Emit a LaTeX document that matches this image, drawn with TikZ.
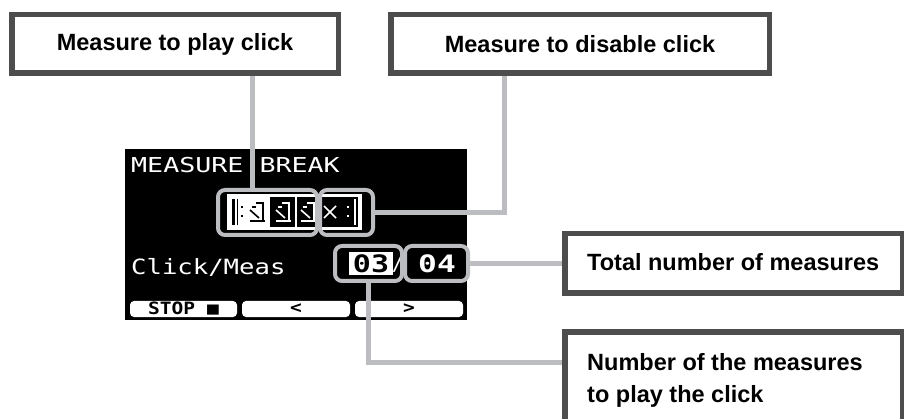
\documentclass[tikz,border=0pt]{standalone}
\usepackage{fontspec}
\setmainfont{Liberation Sans}
\newfontfamily\lcdfont{DejaVu Sans Mono}
\usetikzlibrary{backgrounds}
\definecolor{boxgray}{HTML}{4D4D4D}
\definecolor{linegray}{HTML}{BCBDC0}
\begin{document}
\begin{tikzpicture}[x=1pt,y=-1pt,
  labelbox/.style={draw=boxgray, line width=5.5pt, fill=white, inner sep=0pt},
  conn/.style={draw=linegray, line width=5pt},
  hlbox/.style={draw=linegray, line width=4pt, rounded corners=7pt, inner sep=0pt},
  lbl/.style={font=\fontsize{23.5}{32}\selectfont\bfseries, text=black, inner sep=0pt},
  lcd/.style={font=\fontsize{20.5}{24}\lcdfont, text=white, inner sep=0pt},
  softkey/.style={fill=white, rounded corners=4pt, inner sep=0pt, minimum height=16pt},
  keytext/.style={font=\fontsize{17}{17}\lcdfont\bfseries, text=black, inner sep=0pt},
  clk/.pic={
    \draw[line width=1.6pt] (-7,-2) -- (2,6);
    \draw[line width=1.6pt] (-1,-9) -- (6,-9) -- (6,8);
    \draw[line width=1.6pt] (-7,9) -- (8,9);
    \draw[line width=1.6pt] (-5,-5) -- (-1,-5);
  }
]
\useasboundingbox (0,0) rectangle (904,419);

% callout boxes
\node[labelbox, lbl, minimum width=326.5pt, minimum height=58.5pt] (box1) at (175,44) {Measure to play click};
\node[labelbox, lbl, minimum width=378.5pt, minimum height=58.5pt] (box2) at (580,44) {Measure to disable click};
\node[labelbox, minimum width=337.5pt, minimum height=59.5pt] (totalbox) at (733.5,263.5) {};
\node[lbl, anchor=base west] (totaltxt) at (587,271) {Total number of measures};
\node[labelbox, minimum width=337.5pt, minimum height=118.25pt] (numbox) at (733.5,390.875) {};
\node[lbl, anchor=base west] (numtxt1) at (587,370) {Number of the measures};
\node[lbl, anchor=base west] (numtxt2) at (587,402) {to play the click};

% highlight outlines on the screen
\node[hlbox, minimum width=99pt, minimum height=45pt] (playhl) at (267.5,212.5) {};
\node[hlbox, minimum width=53pt, minimum height=45pt] (disahl) at (346.5,212.5) {};
\node[hlbox, minimum width=67pt, minimum height=35pt] (hl03) at (368.5,263.5) {};
\node[hlbox, minimum width=63pt, minimum height=35pt] (hl04) at (436.5,263.5) {};

\coordinate (c1) at (252,0);
\coordinate (c2) at (504,0);
\coordinate (c3) at (0,362);

\begin{scope}[on background layer]
  % screen
  \fill[black] (125,149) rectangle (467,320);
  \node[lcd, anchor=base west] (title) at (131,173) {\scalebox{1.3}[1]{MEASURE BREAK}};
  \node[lcd, font=\fontsize{21}{24}\lcdfont, anchor=base west] (clkmeas) at (131,275) {\scalebox{1.22}[1]{Click/Meas}};

  % measure strip
  \fill[white] (227,194) rectangle (362,230);
  \fill[black] (230,197) rectangle (357.5,227);
  \fill[white] (230,197) rectangle (270,227);
  \fill[black] (232,199) rectangle (234.5,225);
  \fill[black] (236.5,199) rectangle (237.5,225);
  \fill[black] (240.5,206.5) rectangle (242.5,208.5);
  \fill[black] (240.5,215.5) rectangle (242.5,217.5);
  \fill[white] (295,197) rectangle (296.5,227);
  \pic[color=black] at (257,212) {clk};
  \pic[color=white] at (283,212) {clk};
  \pic[color=white] at (308,212) {clk};
  \draw[white, line width=1.6pt] (324,206) -- (336,218) (324,218) -- (336,206);
  \fill[white] (346.5,206.5) rectangle (348.5,208.5);
  \fill[white] (346.5,215.5) rectangle (348.5,217.5);
  \fill[white] (354,199) rectangle (355.5,225);

  % values
  \fill[white] (349,252) rectangle (393,275);
  \node[font=\fontsize{24}{24}\lcdfont\bfseries, text=black, inner sep=0pt] (n03) at (371,264) {\scalebox{1.25}[1]{03}};
  \node[lcd] (slash) at (398,264) {/};
  \node[font=\fontsize{24}{24}\lcdfont\bfseries, text=white, inner sep=0pt] (n04) at (437,264) {\scalebox{1.3}[1]{04}};

  % soft keys
  \node[softkey, minimum width=107pt] (k1) at (183.5,309) {};
  \node[softkey, minimum width=108pt] (k2) at (296,309) {};
  \node[softkey, minimum width=108pt] (k3) at (409,309) {};
  \node[keytext] (k1t) at (k1) {\scalebox{1.15}[1]{STOP ■}};
  \node[keytext] (k2t) at (k2) {\scalebox{1.15}[1]{<}};
  \node[keytext] (k3t) at (k3) {\scalebox{1.15}[1]{>}};

  % connectors
  \draw[conn] (box1.south -| c1) -- (playhl.north -| c1);
  \draw[conn] (box2.south -| c2) |- (disahl.east);
  \draw[conn] (hl04.east) -- (hl04.east -| totalbox.west);
  \draw[conn] (hl03.south) |- (numbox.west |- c3);
\end{scope}
\end{tikzpicture}
\end{document}
